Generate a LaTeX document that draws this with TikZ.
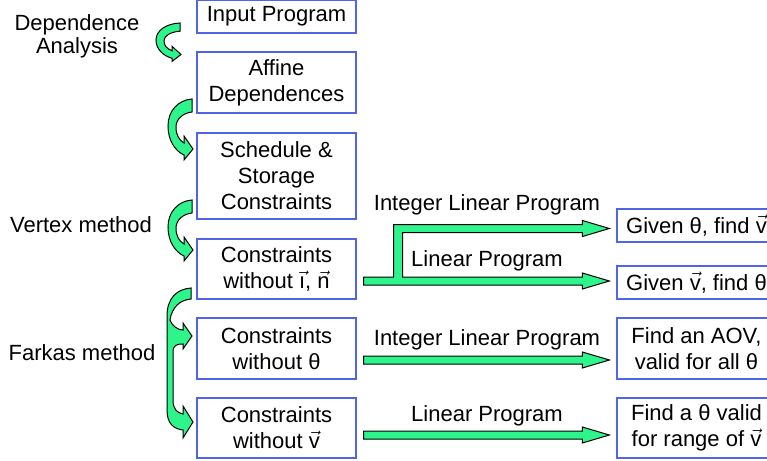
\documentclass[tikz,border=0pt]{standalone}
\usepackage{fontspec}
\setmainfont{Liberation Sans}
\usetikzlibrary{calc}
\definecolor{FlowBlue}{RGB}{80,100,235}
\definecolor{FlowGreen}{RGB}{45,245,140}
\newcommand{\vecsym}[1]{\ensuremath{\vec{\hbox{#1}}}}
% straight block arrow, horizontal at the height of #1
\newcommand{\blockarrow}[2]{%
  \filldraw[blockarrow] let \p1=(#1), \p2=(#2) in
    (\x1,\y1+2pt) -- (\x2-13.5pt,\y1+2pt) -- (\x2-13.5pt,\y1+4pt) -- (\x2,\y1)
    -- (\x2-13.5pt,\y1-4pt) -- (\x2-13.5pt,\y1-2pt) -- (\x1,\y1-2pt) -- cycle;
}
\tikzset{
  stagebox/.style={draw=FlowBlue, line width=0.6pt, minimum width=79.5pt,
    inner sep=0pt, align=center, font=\fontsize{11}{13}\selectfont},
  sidelabel/.style={align=center, inner sep=0pt, font=\fontsize{11}{11.5}\selectfont},
  arrowlabel/.style={inner sep=0pt, font=\fontsize{11}{13}\selectfont},
  blockarrow/.style={fill=FlowGreen, draw=black, line width=0.5pt, line join=miter},
  bendarrow/.pic={
    \filldraw[blockarrow] (0,0) .. controls (-14,1) and (-24,12) .. (-24,27)
      .. controls (-24,41) and (-17,52) .. (-8,56) -- (-8,61) -- (1,50)
      -- (-8,37) -- (-8,44) .. controls (-13,41) and (-16,36) .. (-16,28)
      .. controls (-16,20) and (-9,14) .. (0,13) -- cycle;
  }
}
\begin{document}
\begin{tikzpicture}[x=0.5pt,y=-0.5pt]
  \clip (0,0) rectangle (767,461);
  % left column
  \node[stagebox, minimum height=16.5pt] (inp) at (276.5,16.5) {Input Program};
  \node[stagebox, minimum height=30.5pt] (aff) at (276.5,82.5) {Affine\\Dependences};
  \node[stagebox, minimum height=43pt] (sched) at (276.5,176) {Schedule \&\\Storage\\Constraints};
  \node[stagebox, minimum height=30pt] (c4) at (276.5,269) {Constraints\\without \vecsym{\i}, \vecsym{n}};
  \node[stagebox, minimum height=30.5pt] (c5) at (276.5,348.5) {Constraints\\without θ};
  \node[stagebox, minimum height=30pt] (c6) at (276.5,428) {Constraints\\without \vecsym{v}};
  % right column
  \node[stagebox, minimum height=16.5pt] (g1) at (696.5,225.5) {Given θ, find \vecsym{v}};
  \node[stagebox, minimum height=16.5pt] (g2) at (696.5,282.5) {Given \vecsym{v}, find θ};
  \node[stagebox, minimum height=30.5pt] (f1) at (696.5,348.5) {Find an AOV,\\valid for all θ};
  \node[stagebox, minimum height=30pt] (f2) at (696.5,428) {Find a θ valid\\for range of \vecsym{v}};
  % side labels
  \node[sidelabel] (dep) at (77,36) {Dependence\\Analysis};
  \node[sidelabel] (vert) at (81,225) {Vertex method};
  \node[sidelabel] (fark) at (82,353) {Farkas method};
  % bent arrows
  \pic[yscale=0.63] at (180,23) {bendarrow};
  \pic at (192,99) {bendarrow};
  \pic at (192,200) {bendarrow};
  \filldraw[blockarrow] (191,288) .. controls (177,289) and (167,298) .. (167,316)
    -- (167,410) .. controls (167,424) and (174,429) .. (183,430)
    -- (183,438) -- (193,422) -- (183,406) -- (183,414)
    .. controls (177,413) and (173,409) .. (173,400) -- (173,352)
    .. controls (173,345) and (177,344) .. (183,344)
    -- (183,349) -- (192,336) -- (183,323) -- (183,330)
    .. controls (178,330) and (172,326) .. (170,320)
    .. controls (172,307) and (180,300) .. (191,299) -- cycle;
  % arrows to the right column
  \coordinate (lp0) at ($(c4.east)+(7,12)$);
  \coordinate (ilp1) at ($(g1.west)+(-7,3)$);
  \coordinate (lp1) at ($(g2.west)+(-7,0)$);
  \filldraw[blockarrow] let \p1=(lp0), \p2=(ilp1), \p3=(lp1) in
    (\x1,\y1-2pt) -- (\x3-13.5pt,\y1-2pt) -- (\x3-13.5pt,\y1-4pt) -- (\x3,\y1)
    -- (\x3-13.5pt,\y1+4pt) -- (\x3-13.5pt,\y1+2pt) -- (\x1+19.5pt,\y1+2pt)
    -- (\x1+19.5pt,\y2-2pt) -- (\x2-13.5pt,\y2-2pt) -- (\x2-13.5pt,\y2-4pt)
    -- (\x2,\y2) -- (\x2-13.5pt,\y2+4pt) -- (\x2-13.5pt,\y2+2pt)
    -- (\x1+15pt,\y2+2pt) -- (\x1+15pt,\y1+2pt) -- (\x1,\y1+2pt) -- cycle;
  \coordinate (ilp0) at ($(c5.east)+(7,11.5)$);
  \coordinate (ilp2) at ($(f1.west)+(-7,11.5)$);
  \blockarrow{ilp0}{ilp2}
  \coordinate (lp2) at ($(c6.east)+(7,7)$);
  \coordinate (lp3) at ($(f2.west)+(-7,7)$);
  \blockarrow{lp2}{lp3}
  % arrow labels
  \node[arrowlabel] (t1) at (487,205) {Integer Linear Program};
  \node[arrowlabel] (t2) at (487,261) {Linear Program};
  \node[arrowlabel] (t3) at (487,340) {Integer Linear Program};
  \node[arrowlabel] (t4) at (487,416) {Linear Program};
\end{tikzpicture}
\end{document}
